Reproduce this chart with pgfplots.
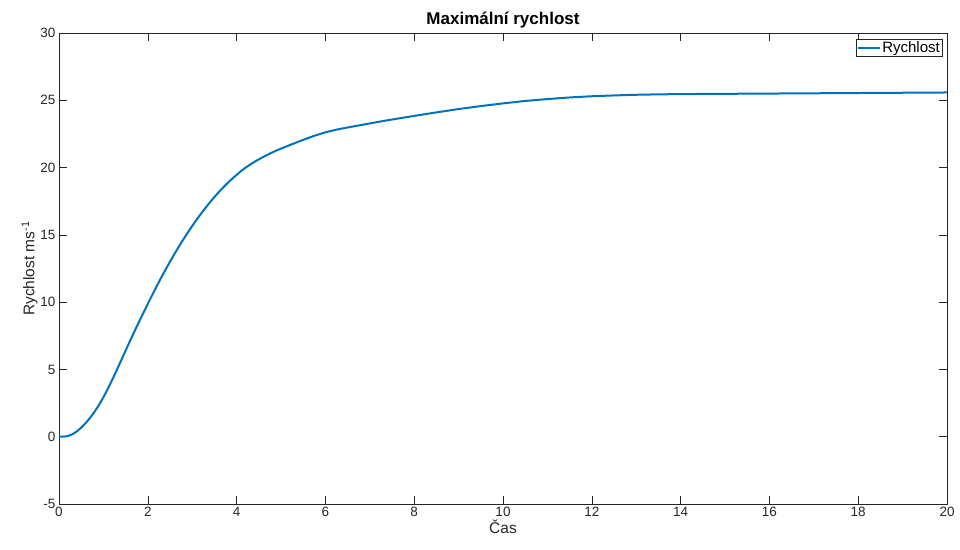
\documentclass[border=0pt]{standalone}
\usepackage{fontspec}
\setmainfont{Liberation Sans}
\usepackage{pgfplots}
\pgfplotsset{compat=1.18}
\definecolor{mblue}{RGB}{0,114,189}
\definecolor{axgray}{RGB}{38,38,38}
\begin{document}
\begin{tikzpicture}[x=1pt,y=1pt]
\useasboundingbox (-59,-45) rectangle (901,504);
\begin{axis}[
  at={(0,0)}, anchor=south west,
  scale only axis, width=888pt, height=471pt,
  xmin=0, xmax=20, ymin=-5, ymax=30,
  xtick={0,2,...,20}, ytick={-5,0,...,30},
  tick align=inside, tick pos=both,
  major tick length=8pt,
  axis line style={axgray, line width=0.6pt},
  tick style={axgray, line width=0.6pt},
  every tick label/.append style={font=\fontsize{13.5}{15}\selectfont, text=axgray},
  /pgf/number format/assume math mode=true,
  title={\textbf{Maximální rychlost}},
  title style={font=\fontsize{17}{19}\selectfont, yshift=-5pt},
  xlabel={Čas}, ylabel={Rychlost ms\textsuperscript{-1}},
  label style={font=\fontsize{15.5}{17}\selectfont, text=axgray},
  xlabel style={yshift=4pt},
  ylabel style={yshift=-4pt},
  legend style={at={(0.995,0.988)}, anchor=north east, font=\fontsize{15}{17}\selectfont, draw=axgray, line width=0.5pt, inner sep=1pt, row sep=0pt, nodes={inner sep=1.5pt}},
  legend image code/.code={\draw[#1] (0pt,0pt) -- (22pt,0pt);},
  legend cell align=left,
]
\addplot[mblue, line width=2pt] coordinates {
(0,0) (0.1,0.0) (0.2,0.05) (0.3,0.18) (0.4,0.39) (0.5,0.67) (0.6,1.01) (0.7,1.40) (0.8,1.85) (0.9,2.36) (1.0,2.93) (1.1,3.56) (1.2,4.24) (1.3,4.95) (1.4,5.67) (1.5,6.40) (1.6,7.12) (1.7,7.83) (1.8,8.52) (1.9,9.20) (2.0,9.87)
(2.1,10.53) (2.2,11.18) (2.3,11.81) (2.4,12.42) (2.5,13.01) (2.6,13.58) (2.7,14.13) (2.8,14.66) (2.9,15.17) (3.0,15.66) (3.1,16.13) (3.2,16.58) (3.3,17.01) (3.4,17.42) (3.5,17.81) (3.6,18.18) (3.7,18.53) (3.8,18.86) (3.9,19.17) (4.0,19.46)
(4.1,19.74) (4.2,19.99) (4.3,20.21) (4.4,20.42) (4.5,20.61) (4.6,20.79) (4.7,20.96) (4.8,21.12) (4.9,21.27) (5.0,21.41) (5.25,21.74) (5.5,22.06) (5.75,22.36) (6.0,22.62) (6.25,22.82) (6.5,22.98) (6.75,23.13) (7.0,23.28)
(7.25,23.43) (7.5,23.57) (8.0,23.84) (8.5,24.1) (9.0,24.35) (9.5,24.57) (10.0,24.77) (10.5,24.95) (11.0,25.09) (11.5,25.21) (12.0,25.3) (12.5,25.36) (13.0,25.41) (13.5,25.44) (14.0,25.46) (15,25.48) (16,25.5) (17,25.52) (18,25.54) (19,25.56) (20,25.58)
};
\addlegendentry{Rychlost}
\end{axis}
\end{tikzpicture}
\end{document}
